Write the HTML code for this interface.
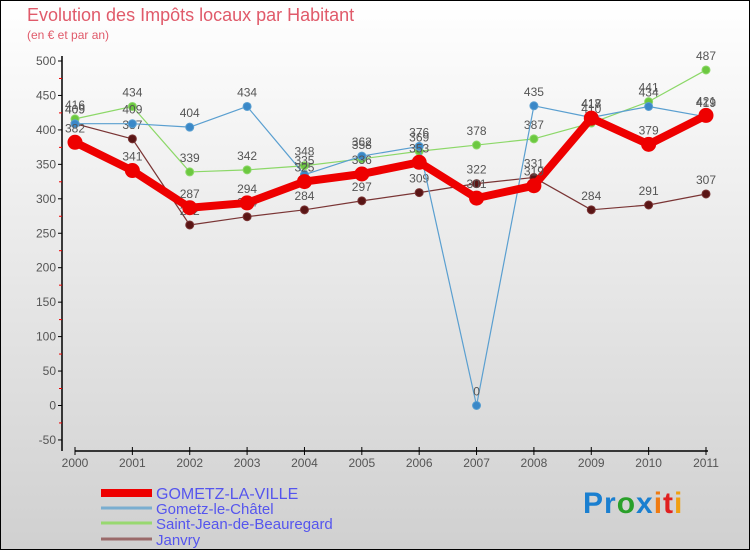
<!DOCTYPE html>
<html><head><meta charset="utf-8"><style>
html,body{margin:0;padding:0}
body{width:750px;height:550px;overflow:hidden;font-family:"Liberation Sans",sans-serif}
#wrap{position:relative;width:748px;height:548px;border:1px solid #000;background:linear-gradient(#ffffff,#d0d0d0)}
.t{position:absolute;white-space:nowrap}
</style></head><body>
<div id="wrap">
<div class="t" style="left:26px;top:4px;font-size:18px;color:#e05a6a">Evolution des Impôts locaux par Habitant</div>
<div class="t" style="left:26px;top:27px;font-size:12px;color:#e05a6a">(en € et par an)</div>
<svg id="chart" width="748" height="548" style="position:absolute;left:0;top:0"></svg>
<div class="t" style="left:582px;top:486px;font-size:30px;font-weight:bold;letter-spacing:1px"><span style="color:#1a7fd0">Pr</span><span style="color:#2aa02a">o</span><span style="color:#1a7fd0">x</span><span style="color:#f07a10">i</span><span style="color:#e02020">t</span><span style="color:#f0a010">i</span></div>
</div>
<script>
const years=["2000","2001","2002","2003","2004","2005","2006","2007","2008","2009","2010","2011"];
const yTicks=[-50,0,50,100,150,200,250,300,350,400,450,500];
const gometzVille=[382,341,287,294,325,336,353,301,319,417,379,421];
const gometzChatel=[409,409,404,434,335,362,376,0,435,418,434,419];
const saintJean=[416,434,339,342,348,358,369,378,387,410,441,487];
const janvry=[409,387,262,274,284,297,309,322,331,284,291,307];
const NS="http://www.w3.org/2000/svg";
const svg=document.getElementById('chart');
const X0=74,X1=705,Y0=404.5,PX=0.689;
function xs(i){return X0+i*(X1-X0)/(years.length-1);}
function ys(v){return Y0-v*PX;}
function el(tag,attrs,parent){const e=document.createElementNS(NS,tag);for(const k in attrs)e.setAttribute(k,attrs[k]);(parent||svg).appendChild(e);return e;}
let ax=el('line',{x1:61,y1:55,x2:61,y2:450,stroke:'#000','stroke-width':1.5});


yTicks.forEach((v,i)=>{
  const y=ys(v);
  el('line',{x1:57,y1:y,x2:61,y2:y,stroke:'#000'});
  if(i<yTicks.length-1){el('line',{x1:58,y1:y-17,x2:61,y2:y-17,stroke:'#e00'});}
  const t=el('text',{x:55,y:y+4,'text-anchor':'end','font-size':12,fill:'#555'});
  t.textContent=v;
  
  
});
let xa=el('line',{x1:74,y1:450,x2:707,y2:450,stroke:'#000','stroke-width':1.5});


years.forEach((yr,i)=>{
  el('line',{x1:xs(i),y1:446,x2:xs(i),y2:454,stroke:'#000'});
  const t=el('text',{x:xs(i),y:466,'text-anchor':'middle','font-size':12,fill:'#555'});
  t.textContent=yr;
  
  
});
function series(data,color,w,r,name,dot){
  const g=el('g',{});
  
  
  el('polyline',{points:data.map((v,i)=>xs(i)+','+ys(v)).join(' '),fill:'none',stroke:color,'stroke-width':w,'stroke-linejoin':'round'},g);
  data.forEach((v,i)=>{
    const c=el('circle',{cx:xs(i),cy:ys(v),r:r,fill:dot,stroke:color,'stroke-width':1},g);
    
    
    const t=el('text',{x:xs(i),y:ys(v)-10,'text-anchor':'middle','font-size':12,fill:'#555'},g);
    t.textContent=v;
    
    
  });
}
series(janvry,'#7a3535',1.2,4,'series-janvry','#5a1515');
series(saintJean,'#8cd868',1.2,4,'series-saint-jean','#6cc840');
series(gometzChatel,'#5a9fd0',1.2,4,'series-gometz-chatel','#3a88c8');
series(gometzVille,'#ee0000',8,7,'series-gometz-la-ville','#ee0000');
const leg=[['GOMETZ-LA-VILLE','#ee0000',8],['Gometz-le-Châtel','#7aaed0',3],['Saint-Jean-de-Beauregard','#98d870',3],['Janvry','#9a6a6a',3]];
const ly=[492,507,522,538];
leg.forEach((l,i)=>{
  const g=el('g',{});
  
  
  el('line',{x1:100,y1:ly[i],x2:151,y2:ly[i],stroke:l[1],'stroke-width':l[2]},g);
  const t=el('text',{x:155,y:ly[i]+6,'font-size':i==0?16:15,fill:'#5555ee'},g);
  t.textContent=l[0];
});
</script>
</body></html>
